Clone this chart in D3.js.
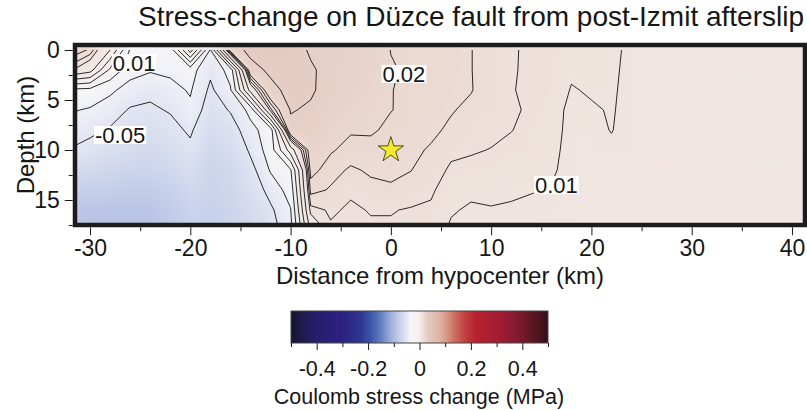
<!DOCTYPE html>
<html>
<head>
<meta charset="utf-8">
<script src="https://cdnjs.cloudflare.com/ajax/libs/d3/7.8.5/d3.min.js"></script>
<style>
  body { margin: 0; background: #fff; }
  svg text { font-family: 'Liberation Sans', Arial, Helvetica, sans-serif; fill: #161616; }
</style>
</head>
<body>
<svg id="chart" width="807" height="410"></svg>
<script>
// grid nodes of the stress-change model (km along strike, km depth)
var gridX = [-32, -30, -28, -26, -24, -22, -20, -18, -16, -14, -12, -10, -8, -6, -4, -2,
             0, 2, 4, 6, 8, 10, 12, 14, 16, 18, 20, 22, 24, 26, 28, 30, 32, 34, 36, 38, 40, 42];
var gridDepth = [0, 2, 4, 6, 8, 10, 12, 14, 16, 18];

// Coulomb stress change (MPa), one row per depth
var stress = [
  [0.02, 0.016, 0.0, -0.031, -0.035, -0.036, 0.005, -0.041, 0.024, 0.033, 0.036, 0.034, 0.029, 0.028, 0.025, 0.023,
   0.0199, 0.0196, 0.019, 0.0185, 0.0168, 0.015, 0.0136, 0.0128, 0.013, 0.0115, 0.0115, 0.0105, 0.0095, 0.009, 0.0088, 0.0087, 0.0086, 0.0086, 0.0085, 0.0085, 0.0084, 0.0084],
  [0.011, 0.004, -0.022, -0.036, -0.039, -0.038, -0.036, -0.048, -0.036, 0.026, 0.032, 0.034, 0.031, 0.0275, 0.0245, 0.0225,
   0.0203, 0.0195, 0.0192, 0.0183, 0.0168, 0.015, 0.0136, 0.0127, 0.0125, 0.0105, 0.011, 0.0104, 0.0094, 0.009, 0.0088, 0.0087, 0.0086, 0.0085, 0.0085, 0.0084, 0.0084, 0.0083],
  [-0.032, -0.033, -0.038, -0.044, -0.047, -0.043, -0.039, -0.052, -0.041, 0.004, 0.027, 0.033, 0.031, 0.027, 0.024, 0.022,
   0.0201, 0.0193, 0.019, 0.018, 0.0169, 0.0148, 0.0135, 0.0126, 0.012, 0.0098, 0.0103, 0.0103, 0.0093, 0.0089, 0.0087, 0.0086, 0.0085, 0.0085, 0.0084, 0.0084, 0.0083, 0.0083],
  [-0.039, -0.041, -0.045, -0.051, -0.052, -0.049, -0.042, -0.056, -0.049, -0.037, 0.012, 0.0305, 0.029, 0.025, 0.0225, 0.0215,
   0.0201, 0.0192, 0.0185, 0.017, 0.0158, 0.0145, 0.0138, 0.0128, 0.011, 0.0094, 0.0097, 0.0102, 0.0092, 0.0088, 0.0086, 0.0085, 0.0084, 0.0084, 0.0083, 0.0083, 0.0082, 0.0082],
  [-0.045, -0.048, -0.051, -0.056, -0.058, -0.054, -0.048, -0.062, -0.056, -0.043, -0.035, 0.028, 0.027, 0.0225, 0.0205, 0.0205,
   0.0192, 0.0185, 0.0175, 0.016, 0.0145, 0.014, 0.0134, 0.0124, 0.011, 0.0092, 0.0093, 0.0101, 0.009, 0.0087, 0.0085, 0.0084, 0.0083, 0.0083, 0.0082, 0.0082, 0.0081, 0.0081],
  [-0.0505, -0.053, -0.058, -0.062, -0.064, -0.06, -0.053, -0.066, -0.062, -0.048, -0.035, -0.005, 0.024, 0.0205, 0.0185, 0.0188,
   0.0183, 0.0175, 0.0163, 0.014, 0.0136, 0.0132, 0.0125, 0.012, 0.0108, 0.009, 0.009, 0.0095, 0.0088, 0.0086, 0.0084, 0.0083, 0.0082, 0.0082, 0.0081, 0.0081, 0.008, 0.008],
  [-0.062, -0.065, -0.068, -0.07, -0.071, -0.067, -0.06, -0.07, -0.066, -0.054, -0.039, -0.031, 0.0215, 0.018, 0.0162, 0.0172,
   0.0175, 0.0168, 0.0148, 0.0128, 0.0125, 0.0122, 0.0115, 0.0112, 0.0105, 0.0088, 0.0088, 0.009, 0.0086, 0.0084, 0.0083, 0.0082, 0.0081, 0.0081, 0.008, 0.008, 0.0079, 0.0079],
  [-0.075, -0.077, -0.078, -0.08, -0.08, -0.074, -0.066, -0.072, -0.068, -0.058, -0.046, -0.036, 0.018, 0.0163, 0.0138, 0.0158,
   0.0162, 0.0152, 0.0138, 0.0115, 0.0106, 0.0108, 0.0104, 0.0102, 0.0098, 0.0086, 0.0086, 0.0087, 0.0084, 0.0082, 0.0081, 0.008, 0.008, 0.0079, 0.0079, 0.0079, 0.0078, 0.0078],
  [-0.085, -0.086, -0.087, -0.088, -0.087, -0.08, -0.072, -0.074, -0.07, -0.062, -0.052, -0.0405, 0.012, 0.0138, 0.0128, 0.0135,
   0.0135, 0.013, 0.0128, 0.0103, 0.0096, 0.0098, 0.0097, 0.0092, 0.009, 0.0084, 0.0084, 0.0085, 0.0082, 0.008, 0.008, 0.0079, 0.0078, 0.0078, 0.0078, 0.0077, 0.0077, 0.0077],
  [-0.088, -0.09, -0.09, -0.09, -0.09, -0.083, -0.075, -0.075, -0.07, -0.064, -0.055, -0.043, 0.002, 0.0128, 0.0125, 0.0128,
   0.0128, 0.0125, 0.0118, 0.0095, 0.009, 0.0092, 0.009, 0.0088, 0.0085, 0.0082, 0.0082, 0.0083, 0.008, 0.0079, 0.0078, 0.0078, 0.0077, 0.0077, 0.0076, 0.0076, 0.0076, 0.0076]
];

var contourLevels = [-0.05, -0.04, -0.03, -0.02, -0.01, 0, 0.01, 0.0133, 0.0167, 0.02, 0.03];
var contourLabels = [
  {text: '0.01', x: -25.6, depth: 1.3},
  {text: '-0.05', x: -27.0, depth: 8.5},
  {text: '0.02', x: 1.3, depth: 2.4},
  {text: '0.01', x: 16.5, depth: 13.5}
];
var hypocenter = {x: 0, depth: 10};

var xTicks = [-30, -20, -10, 0, 10, 20, 30, 40];
var xMinorTicks = [-25, -15, -5, 5, 15, 25, 35];
var depthTicks = [0, 5, 10, 15];
var depthMinorTicks = [2.5, 7.5, 12.5, 17.5];
var cbarTicks = [-0.4, -0.2, 0, 0.2, 0.4];
var cbarMinorTicks = [-0.5, -0.3, -0.1, 0.1, 0.3, 0.5];

// colour palette (MPa -> colour)
var cbarStops = [-0.5, -0.46, -0.4, -0.3, -0.23, -0.19, -0.15, -0.11, -0.08, -0.05, -0.035, -0.01,
                 0.005, 0.015, 0.025, 0.04, 0.08, 0.11, 0.14, 0.18, 0.22, 0.3, 0.35, 0.4, 0.45, 0.5];
var cbarColors = ['#15142b', '#1e1a4a', '#281d6d', '#2c2182', '#2f3590', '#3a56a8', '#6580c0', '#9fb1da',
                  '#c3cde9', '#e2e6f3', '#f6f6f9', '#f7f2f1', '#f2e9e5', '#eddfd9', '#e8d2c9', '#e4c7bc',
                  '#dfb2a4', '#d6927f', '#c96a5b', '#c13c3f', '#b8222f', '#a51c33', '#911b32', '#75192b',
                  '#551620', '#33101a'];

var svg = d3.select('#chart');
var x = d3.scaleLinear().domain([-31.5, 41.3]).range([75, 805]);
var y = d3.scaleLinear().domain([-0.5, 17.5]).range([45, 225]);
var color = d3.scaleLinear().domain(cbarStops).range(cbarColors).clamp(true);

var defs = svg.append('defs');
defs.append('clipPath').attr('id', 'plot-clip')
  .append('rect')
  .attr('x', x(-31.5)).attr('y', y(-0.5))
  .attr('width', x(41.3) - x(-31.5)).attr('height', y(17.5) - y(-0.5));
defs.append('clipPath').attr('id', 'contour-clip')
  .append('rect')
  .attr('x', x(-31.5)).attr('y', y(0))
  .attr('width', x(41.3) - x(-31.5)).attr('height', y(17.5) - y(0));

// heat map: one pixel per grid node, stretched (smoothed) over the plot
var nx = gridX.length, ny = gridDepth.length;
var stepX = gridX[1] - gridX[0], stepD = gridDepth[1] - gridDepth[0];
var canvas = document.createElement('canvas');
canvas.width = nx;
canvas.height = ny;
var ctx = canvas.getContext('2d');
stress.forEach(function(row, j) {
  row.forEach(function(v, i) {
    ctx.fillStyle = color(v);
    ctx.fillRect(i, j, 1, 1);
  });
});

svg.append('g')
  .attr('clip-path', 'url(#plot-clip)')
  .append('image')
  .attr('x', x(gridX[0] - stepX / 2))
  .attr('y', y(gridDepth[0] - stepD / 2))
  .attr('width', x(gridX[nx - 1] + stepX / 2) - x(gridX[0] - stepX / 2))
  .attr('height', y(gridDepth[ny - 1] + stepD / 2) - y(gridDepth[0] - stepD / 2))
  .attr('preserveAspectRatio', 'none')
  .attr('href', canvas.toDataURL());

// contour lines
var contours = d3.contours()
  .size([nx, ny])
  .thresholds(contourLevels)(d3.merge(stress));

var gridToPx = d3.geoTransform({
  point: function(cx, cy) {
    this.stream.point(x(gridX[0] + (cx - 0.5) * stepX), y(gridDepth[0] + (cy - 0.5) * stepD));
  }
});

svg.append('g')
  .attr('clip-path', 'url(#contour-clip)')
  .selectAll('path')
  .data(contours)
  .join('path')
  .attr('d', d3.geoPath(gridToPx))
  .attr('fill', 'none')
  .attr('stroke', '#141414')
  .attr('stroke-width', 0.9)
  .attr('stroke-linejoin', 'round');

// contour labels with white boxes
var labels = svg.append('g')
  .selectAll('g')
  .data(contourLabels)
  .join('g')
  .attr('transform', (d) => 'translate(' + x(d.x) + ',' + y(d.depth) + ')');

labels.append('rect').attr('fill', '#fff');
labels.append('text')
  .attr('text-anchor', 'middle')
  .attr('dy', '0.36em')
  .style('font-size', '22px')
  .text((d) => d.text);
labels.each(function() {
  var g = d3.select(this);
  var bb = g.select('text').node().getBBox();
  g.select('rect')
    .attr('x', bb.x - 1).attr('y', -9)
    .attr('width', bb.width + 2).attr('height', 18);
});

// hypocentre star
svg.append('path')
  .attr('d', d3.symbol(d3.symbolStar, 200)())
  .attr('transform', 'translate(' + x(hypocenter.x) + ',' + y(hypocenter.depth) + ')')
  .attr('fill', '#f6e82c')
  .attr('stroke', '#3a3a20')
  .attr('stroke-width', 0.9);

// frame
svg.append('rect')
  .attr('x', x(-31.5)).attr('y', y(-0.5))
  .attr('width', x(41.3) - x(-31.5)).attr('height', y(17.5) - y(-0.5))
  .attr('fill', 'none')
  .attr('stroke', '#1c1c1c')
  .attr('stroke-width', 4.5);

// axes
var fmt = (d) => String(d);
var styleAxis = function(g, size) {
  g.select('.domain').remove();
  g.attr('color', '#1a1a1a');
  g.selectAll('line').attr('stroke-width', 1);
  g.selectAll('text').style('font-size', size).attr('font-family', null);
};

svg.append('g')
  .attr('transform', 'translate(0,' + (y(17.5) + 2.25) + ')')
  .call(d3.axisBottom(x).tickValues(xTicks).tickSize(8).tickPadding(4).tickFormat(fmt))
  .call((g) => styleAxis(g, '23px'));
svg.append('g')
  .attr('transform', 'translate(0,' + (y(17.5) + 2.25) + ')')
  .call(d3.axisBottom(x).tickValues(xMinorTicks).tickSize(4).tickFormat(''))
  .call((g) => styleAxis(g, '23px'));

svg.append('g')
  .attr('transform', 'translate(' + (x(-31.5) - 2.25) + ',0)')
  .call(d3.axisLeft(y).tickValues(depthTicks).tickSize(8).tickPadding(5).tickFormat(fmt))
  .call((g) => styleAxis(g, '23px'));
svg.append('g')
  .attr('transform', 'translate(' + (x(-31.5) - 2.25) + ',0)')
  .call(d3.axisLeft(y).tickValues(depthMinorTicks).tickSize(4).tickFormat(''))
  .call((g) => styleAxis(g, '23px'));

// titles
svg.append('text')
  .attr('x', 471).attr('y', 26)
  .attr('text-anchor', 'middle')
  .style('font-size', '28px')
  .text('Stress-change on Düzce fault from post-Izmit afterslip');

svg.append('text')
  .attr('x', 440).attr('y', 284)
  .attr('text-anchor', 'middle')
  .style('font-size', '24px')
  .text('Distance from hypocenter (km)');

svg.append('text')
  .attr('transform', 'translate(34,' + y(8.5) + ') rotate(-90)')
  .attr('text-anchor', 'middle')
  .style('font-size', '24px')
  .text('Depth (km)');

// colour bar
var cb = d3.scaleLinear().domain([-0.5, 0.5]).range([291, 548]);
var cbTop = 311, cbHeight = 32;

var grad = defs.append('linearGradient').attr('id', 'cbar-grad')
  .attr('x1', '0%').attr('x2', '100%').attr('y1', '0%').attr('y2', '0%');
grad.selectAll('stop')
  .data(cbarStops)
  .join('stop')
  .attr('offset', (d) => ((d + 0.5) * 100) + '%')
  .attr('stop-color', (d) => color(d));

svg.append('rect')
  .attr('x', cb(-0.5)).attr('y', cbTop)
  .attr('width', cb(0.5) - cb(-0.5)).attr('height', cbHeight)
  .attr('fill', 'url(#cbar-grad)')
  .attr('stroke', '#444')
  .attr('stroke-width', 1);

svg.append('g')
  .attr('transform', 'translate(0,' + (cbTop + cbHeight) + ')')
  .call(d3.axisBottom(cb).tickValues(cbarTicks).tickSize(7).tickPadding(11).tickFormat(fmt))
  .call((g) => styleAxis(g, '21.5px'));
svg.append('g')
  .attr('transform', 'translate(0,' + (cbTop + cbHeight) + ')')
  .call(d3.axisBottom(cb).tickValues(cbarMinorTicks).tickSize(4).tickFormat(''))
  .call((g) => styleAxis(g, '21.5px'));

svg.append('text')
  .attr('x', 419).attr('y', 404)
  .attr('text-anchor', 'middle')
  .style('font-size', '21.5px')
  .text('Coulomb stress change (MPa)');
</script>
</body>
</html>
